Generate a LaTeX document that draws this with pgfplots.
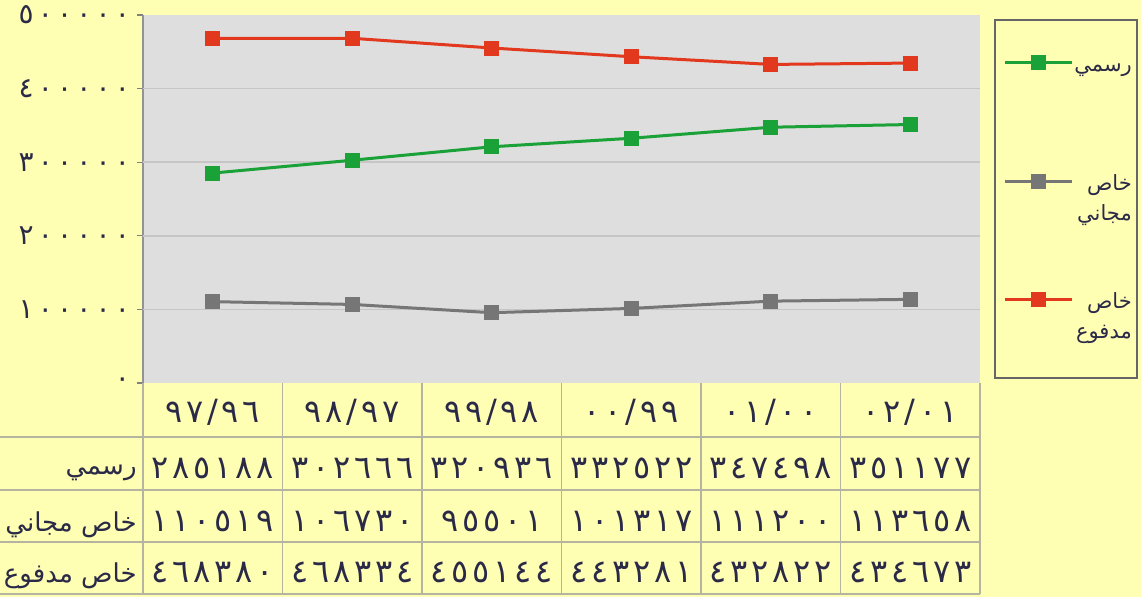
\documentclass[border=0pt]{standalone}
\usepackage{fontspec}
\setmainfont{DejaVu Sans}[Script=Arabic]
\usepackage{pgfplots}
\pgfplotsset{compat=1.18}
\TeXXeTstate=1
\newcommand{\ar}[1]{\beginR #1\endR}
\definecolor{bgyellow}{HTML}{FFFFB4}
\definecolor{plotgray}{HTML}{DEDEDE}
\definecolor{gridgray}{HTML}{C6C6C6}
\definecolor{cgreen}{HTML}{1AA238}
\definecolor{cred}{HTML}{E2381E}
\definecolor{cgray}{HTML}{767676}
\definecolor{tabline}{HTML}{B4B4A0}
\definecolor{txt}{HTML}{2A2A48}
\begin{document}
\begin{tikzpicture}
\fill[bgyellow] (-71.5pt,-107pt) rectangle (499pt,191.5pt);
\draw[black!60, line width=1pt, fill=bgyellow] (426pt,181.5pt) rectangle (497pt,2.5pt);
\begin{axis}[
  at={(0,0)}, anchor=south west,
  scale only axis, width=418.5pt, height=184pt,
  xmin=-0.5, xmax=5.5, ymin=0, ymax=500000,
  axis background/.style={fill=plotgray},
  axis y line*=left, axis x line=none,
  y axis line style={draw=gray!85, line width=1pt},
  scaled y ticks=false,
  ytick={0,100000,200000,300000,400000,500000},
  yticklabels={٠,١٠٠٠٠٠,٢٠٠٠٠٠,٣٠٠٠٠٠,٤٠٠٠٠٠,٥٠٠٠٠٠},
  extra y ticks={100000,200000,300000,400000},
  extra y tick labels={},
  extra y tick style={grid=major, major tick length=0pt},
  grid style={gridgray, line width=0.8pt},
  xtick=\empty,
  tick align=outside, major tick length=3pt, tick style={gray, line width=0.6pt},
  yticklabel style={font=\fontsize{14}{14}\selectfont\addfontfeatures{LetterSpace=15}, text=txt},
  clip=false,
  legend style={at={(1.0275,0.915)}, anchor=north west, fill=none,
    draw=none, font=\fontsize{10.5}{15}\selectfont, text=txt,
    row sep=43.3pt, inner sep=0pt, cells={anchor=east}, nodes={inner xsep=0.5pt}},
  legend image code/.code={\draw[mark repeat=2,mark phase=2] plot coordinates {(0pt,0pt)(16.75pt,0pt)(33.5pt,0pt)};},
]
\addplot[cgreen, line width=1.5pt, mark=square*, mark size=3pt] coordinates {(0,285188)(1,302666)(2,320936)(3,332522)(4,347498)(5,351177)};
\addlegendentry{\begin{tabular}[t]{@{}r@{}}\ar{رسمي}\\\mbox{}\end{tabular}}
\addplot[cgray, line width=1.5pt, mark=square*, mark size=3pt] coordinates {(0,110519)(1,106730)(2,95501)(3,101317)(4,111200)(5,113658)};
\addlegendentry{\begin{tabular}[t]{@{}r@{}}\ar{خاص}\\\ar{مجاني}\end{tabular}}
\addplot[cred, line width=1.5pt, mark=square*, mark size=3pt] coordinates {(0,468380)(1,468334)(2,455144)(3,443281)(4,432822)(5,434673)};
\addlegendentry{\begin{tabular}[t]{@{}r@{}}\ar{خاص}\\\ar{مدفوع}\end{tabular}}
\end{axis}
% data table
\def\cw{69.75}
\foreach \i in {0,...,6} \draw[tabline, line width=0.7pt] (\i*\cw pt,0pt) -- (\i*\cw pt,-105.5pt);
\foreach \y in {-27,-53.5,-79.5,-105.5} \draw[tabline, line width=0.7pt] (-71.5pt,\y pt) -- (418.5pt,\y pt);
\begin{scope}[every node/.style={font=\fontsize{16}{16}\selectfont\addfontfeatures{LetterSpace=12}, text=txt, inner sep=0pt}]
\foreach \t [count=\i from 0] in {٩٧/٩٦,٩٨/٩٧,٩٩/٩٨,٠٠/٩٩,٠١/٠٠,٠٢/٠١}
  \node at ({(\i+0.5)*\cw pt},-14.5pt) {\t};
\foreach \t [count=\i from 0] in {٢٨٥١٨٨,٣٠٢٦٦٦,٣٢٠٩٣٦,٣٣٢٥٢٢,٣٤٧٤٩٨,٣٥١١٧٧}
  \node at ({(\i+0.5)*\cw pt},-42.5pt) {\t};
\foreach \t [count=\i from 0] in {١١٠٥١٩,١٠٦٧٣٠,٩٥٥٠١,١٠١٣١٧,١١١٢٠٠,١١٣٦٥٨}
  \node at ({(\i+0.5)*\cw pt},-69pt) {\t};
\foreach \t [count=\i from 0] in {٤٦٨٣٨٠,٤٦٨٣٣٤,٤٥٥١٤٤,٤٤٣٢٨١,٤٣٢٨٢٢,٤٣٤٦٧٣}
  \node at ({(\i+0.5)*\cw pt},-94.5pt) {\t};
\end{scope}
\begin{scope}[every node/.style={font=\fontsize{13}{13}\selectfont, text=txt, inner sep=0pt, anchor=east}]
\node at (-3pt,-45pt) {\ar{رسمي}};
\node at (-3pt,-71pt) {\ar{خاص مجاني}};
\node at (-3pt,-96.5pt) {\ar{خاص مدفوع}};
\end{scope}
\pgfresetboundingbox
\path[use as bounding box] (-71.5pt,-107pt) rectangle (499pt,191.5pt);
\end{tikzpicture}
\end{document}
